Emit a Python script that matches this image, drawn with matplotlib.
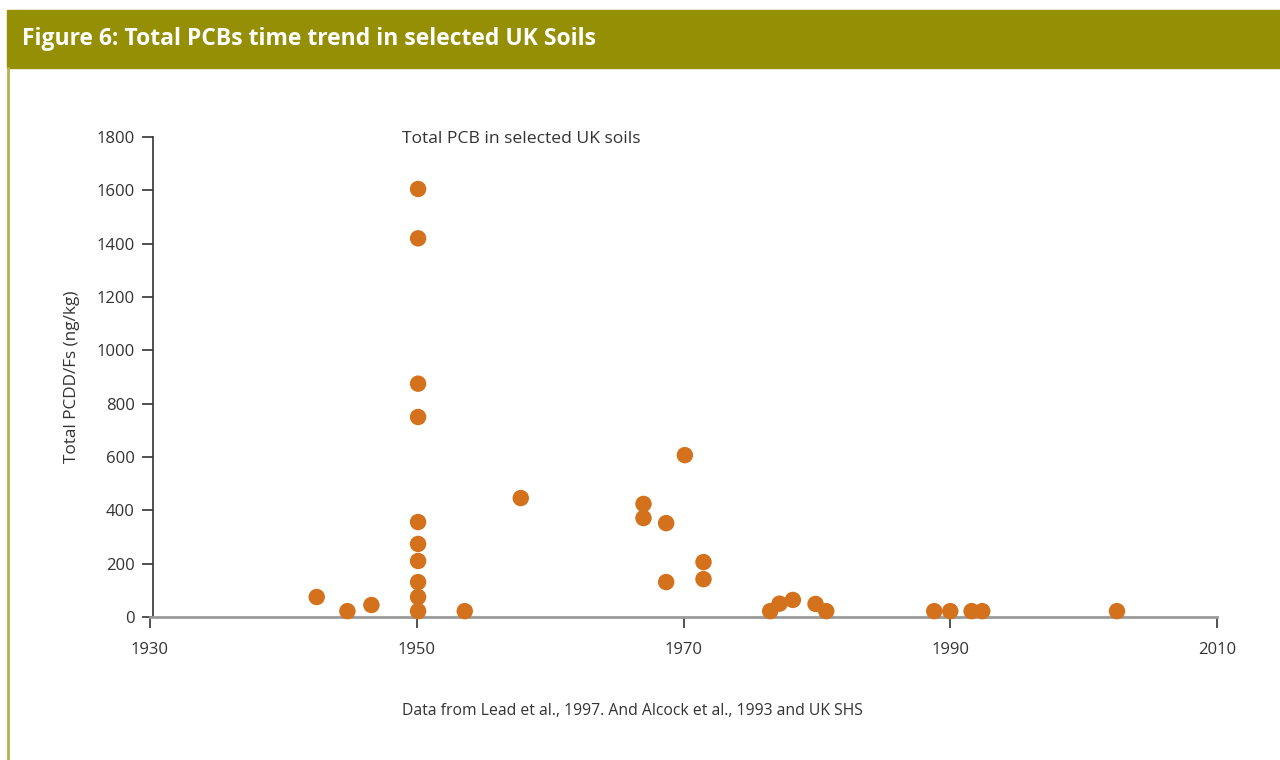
import matplotlib.pyplot as plt
from matplotlib.patches import Rectangle
from matplotlib.lines import Line2D

plt.rcParams['font.family'] = ['Open Sans', 'DejaVu Sans']

# Sample year and total PCB (ng/kg)
years = [1942.5, 1944.8, 1946.6,
         1950.1, 1950.1, 1950.1, 1950.1, 1950.1, 1950.1, 1950.1, 1950.1, 1950.1, 1950.1,
         1953.6, 1957.8, 1967.0, 1967.0, 1968.7, 1968.7, 1970.1,
         1971.5, 1971.5, 1976.5, 1977.2, 1978.2, 1979.9, 1980.7,
         1988.8, 1990.0, 1991.6, 1992.4, 2002.5]
values = [75, 22, 45,
          1605, 1420, 875, 750, 356, 274, 210, 131, 75, 22,
          22, 446, 424, 371, 352, 131, 607,
          206, 142, 22, 50, 64, 49, 22,
          22, 22, 22, 22, 22]

x_ticks = [1930, 1950, 1970, 1990, 2010]
y_ticks = [0, 200, 400, 600, 800, 1000, 1200, 1400, 1600, 1800]

title = "Figure 6: Total PCBs time trend in selected UK Soils"
chart_title = "Total PCB in selected UK soils"
source = "Data from Lead et al., 1997. And Alcock et al., 1993 and UK SHS"

W, H = 1280, 760
fig = plt.figure(figsize=(12.8, 7.6), dpi=100)

# header band and left border
fig.patches.append(Rectangle((7 / W, 1 - 68 / H), 1 - 7 / W, 58 / H,
                             transform=fig.transFigure, color='#948f05', zorder=0))
fig.lines.append(Line2D([8 / W, 8 / W], [0, 1 - 68 / H], transform=fig.transFigure,
                        color='#b3b24d', lw=2))
fig.text(22 / W, 1 - 39 / H, title, color='white', fontsize=16.5, fontweight='bold',
         va='center', ha='left')

ax = fig.add_axes([150 / W, 1 - 617 / H, (1217 - 150) / W, (617 - 137) / H])
ax.scatter(years, values, s=140, color='#d4711c', edgecolors='none', zorder=3,
           clip_on=False)

ax.set_xlim(1930, 2010)
ax.set_ylim(0, 1800)
ax.set_xticks(x_ticks)
ax.set_yticks(y_ticks)
ax.tick_params(axis='both', labelsize=12, colors='#333333', length=8, width=1.2)
ax.tick_params(axis='x', pad=10)
ax.tick_params(axis='y', pad=5)

for s in ['top', 'right']:
    ax.spines[s].set_visible(False)
ax.spines['bottom'].set_color('#9a9a9a')
ax.spines['bottom'].set_linewidth(2)
ax.spines['left'].set_color('#333333')
ax.spines['left'].set_linewidth(1.2)
ax.spines['left'].set_position(('outward', -2))

ax.set_ylabel("Total PCDD/Fs (ng/kg)", fontsize=12.3, color='#333333', labelpad=12)

fig.text(402 / W, 1 - 139 / H, chart_title, fontsize=12.6, color='#333333',
         ha='left', va='center')
fig.text(402 / W, 1 - 711 / H, source, fontsize=11.3, color='#333333',
         ha='left', va='center')

fig.savefig('out.png', dpi=100)
